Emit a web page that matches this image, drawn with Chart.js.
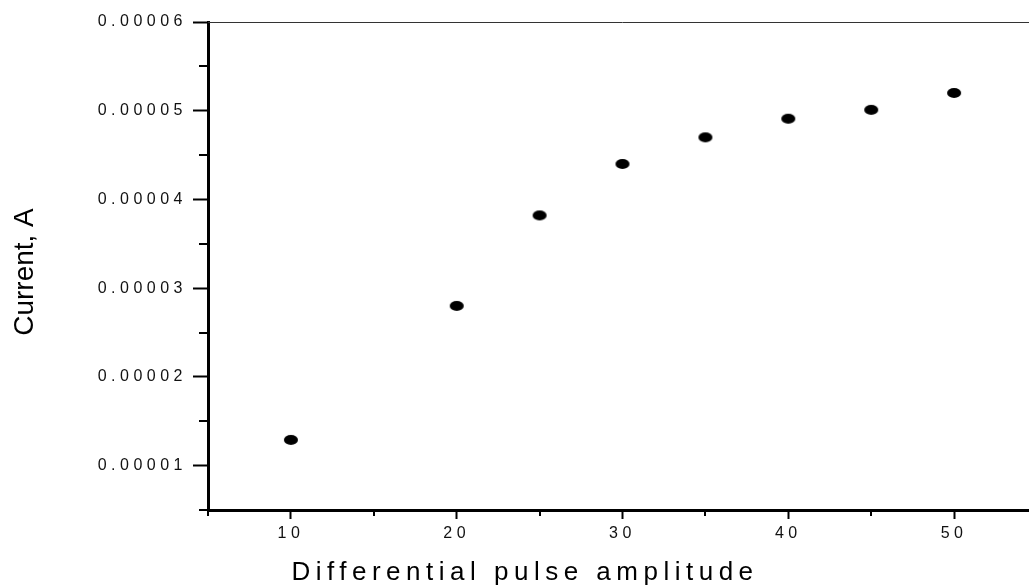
<!DOCTYPE html>
<html>
<head>
<meta charset="utf-8">
<title>Current vs differential pulse amplitude</title>
<script src="https://cdn.jsdelivr.net/npm/chart.js@4/dist/chart.umd.min.js"></script>
<style>
  html, body { margin: 0; padding: 0; background: #fff; overflow: hidden; }
  canvas { display: block; }
</style>
</head>
<body>
<canvas id="pulseChart" width="1045" height="586"></canvas>
<script>

// measured points
const amplitude = [10, 20, 25, 30, 35, 40, 45, 50];
const current = [0.0000129, 0.000028, 0.0000382, 0.000044, 0.000047, 0.0000491, 0.0000501, 0.000052];

// axis ticks
const xTicks = [10, 20, 30, 40, 50];
const xMinorTicks = [5, 15, 25, 35, 45, 55];
const yTicks = [0.00001, 0.00002, 0.00003, 0.00004, 0.00005, 0.00006];
const yTickLabels = ["0.00001", "0.00002", "0.00003", "0.00004", "0.00005", "0.00006"];
const yMinorTicks = [0.000005, 0.000015, 0.000025, 0.000035, 0.000045, 0.000055];

const xTitle = "Differential pulse amplitude";
const yTitle = "Current, A";

const FONT = "'Liberation Sans', Arial, sans-serif";

// flat oval marker
function makeDot() {
  const c = document.createElement("canvas");
  c.width = 16;
  c.height = 12;
  const g = c.getContext("2d");
  g.fillStyle = "#000";
  g.beginPath();
  g.ellipse(8, 6, 7, 5, 0, 0, Math.PI * 2);
  g.fill();
  return c;
}

// spaced-out tick text, plus frame line, minor ticks and axis titles
const frameExtras = {
  id: "frameExtras",
  beforeUpdate(chart) {
    chart.ctx.letterSpacing = "4.5px";
  },
  beforeDraw(chart) {
    chart.ctx.letterSpacing = "4.5px";
  },
  afterDraw(chart) {
    const ctx = chart.ctx;
    const area = chart.chartArea;
    const xs = chart.scales.x;
    const ys = chart.scales.y;

    ctx.save();

    // thin line along the top
    ctx.strokeStyle = "#333";
    ctx.lineWidth = 1;
    ctx.beginPath();
    ctx.moveTo(area.left, area.top + 0.5);
    ctx.lineTo(area.right, area.top + 0.5);
    ctx.stroke();

    // minor ticks
    ctx.strokeStyle = "#000";
    ctx.lineWidth = 2;
    xMinorTicks.forEach(v => {
      const px = Math.round(xs.getPixelForValue(v));
      ctx.beginPath();
      ctx.moveTo(px, area.bottom);
      ctx.lineTo(px, area.bottom + 6);
      ctx.stroke();
    });
    yMinorTicks.forEach(v => {
      const py = Math.round(ys.getPixelForValue(v));
      ctx.beginPath();
      ctx.moveTo(area.left - 9, py);
      ctx.lineTo(area.left, py);
      ctx.stroke();
    });

    // x title
    ctx.fillStyle = "#000";
    ctx.font = "26px " + FONT;
    ctx.letterSpacing = "5.5px";
    ctx.textAlign = "center";
    ctx.textBaseline = "alphabetic";
    ctx.fillText(xTitle, 525, 580);

    // y title
    ctx.letterSpacing = "0px";
    ctx.font = "28px " + FONT;
    ctx.translate(33, 272);
    ctx.rotate(-Math.PI / 2);
    ctx.fillText(yTitle, 0, 0);

    ctx.restore();
  }
};

new Chart(document.getElementById("pulseChart"), {
  type: "scatter",
  data: {
    datasets: [{
      label: "Current",
      data: amplitude.map((a, i) => ({ x: a, y: current[i] })),
      pointStyle: makeDot(),
      pointRadius: 7,
      pointHoverRadius: 7,
      showLine: false
    }]
  },
  options: {
    responsive: false,
    animation: false,
    events: [],
    layout: {
      padding: { left: 0, top: 22, right: 5, bottom: 0 }
    },
    plugins: {
      legend: { display: false },
      tooltip: { enabled: false }
    },
    scales: {
      x: {
        type: "linear",
        min: 5,
        max: 55,
        afterBuildTicks: scale => {
          scale.ticks = xTicks.map(v => ({ value: v }));
        },
        afterFit: scale => {
          scale.height = 76;
        },
        border: { display: true, color: "#000", width: 3 },
        grid: {
          drawOnChartArea: false,
          tickLength: 9,
          tickWidth: 2,
          tickColor: "#000"
        },
        ticks: {
          color: "#111",
          font: { family: FONT, size: 16 },
          padding: 5,
          maxRotation: 0,
          autoSkip: false,
          callback: v => String(v)
        }
      },
      y: {
        type: "linear",
        min: 0.000005,
        max: 0.00006,
        afterBuildTicks: scale => {
          scale.ticks = yTicks.map(v => ({ value: v }));
        },
        afterFit: scale => {
          scale.width = 208;
        },
        border: { display: true, color: "#000", width: 3 },
        grid: {
          drawOnChartArea: false,
          tickLength: 15,
          tickWidth: 2,
          tickColor: "#000"
        },
        ticks: {
          color: "#111",
          font: { family: FONT, size: 16 },
          padding: 6,
          autoSkip: false,
          callback: (v, i) => yTickLabels[i]
        }
      }
    }
  },
  plugins: [frameExtras]
});

</script>
</body>
</html>
